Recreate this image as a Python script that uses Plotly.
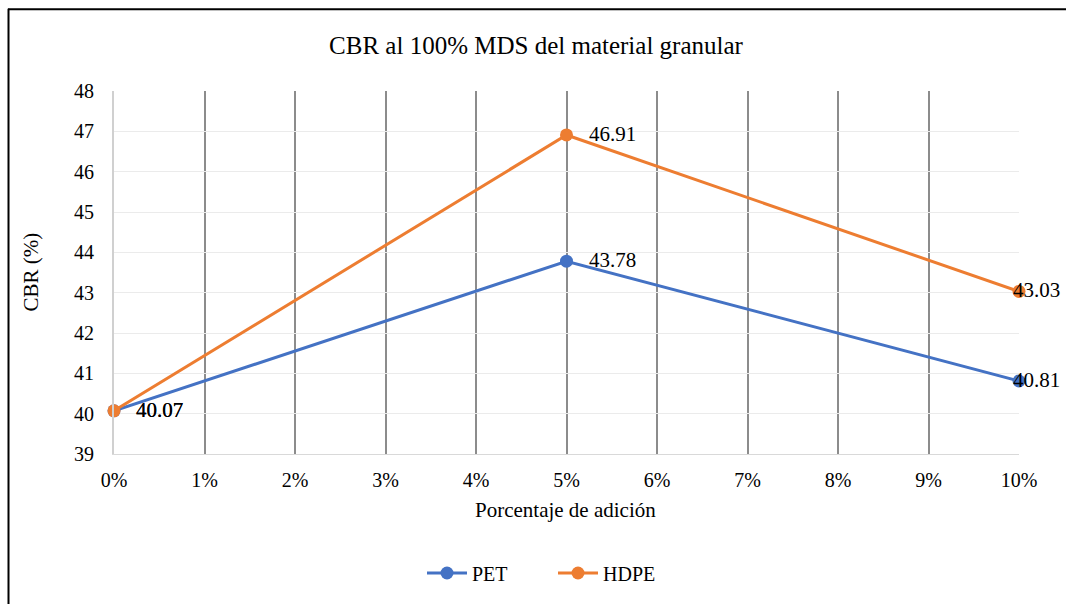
import plotly.graph_objects as go

# Percent of plastic added to the granular material (x positions, 0..10 %)
adicion = [0, 5, 10]
cbr_pet = [40.07, 43.78, 40.81]
cbr_hdpe = [40.07, 46.91, 43.03]

tick_vals = list(range(0, 11))
tick_text = [f"{v}%" for v in tick_vals]

BLUE = "#4472C4"
ORANGE = "#ED7D31"
FONT = "Liberation Serif"

W, H = 1066, 604
M_L, M_R, M_T, M_B = 114, 47, 91, 147
PW, PH = W - M_L - M_R, H - M_T - M_B


def px_x(px):
    return (px - M_L) / PW


def px_y(py):
    return (H - M_B - py) / PH


fig = go.Figure()
fig.add_trace(go.Scatter(
    x=adicion, y=cbr_pet, name="PET", mode="lines+markers",
    line=dict(color=BLUE, width=3), marker=dict(size=13, color=BLUE),
    cliponaxis=False,
))
fig.add_trace(go.Scatter(
    x=adicion, y=cbr_hdpe, name="HDPE", mode="lines+markers",
    line=dict(color=ORANGE, width=3), marker=dict(size=13, color=ORANGE),
    cliponaxis=False,
))

# Value labels next to each point
annotations = []
for series in (cbr_pet, cbr_hdpe):
    for xv, yv in zip(adicion, series):
        last = xv == adicion[-1]
        annotations.append(dict(
            x=xv, y=yv, xref="x", yref="y", text=f"{yv:.2f}",
            showarrow=False, xanchor="left", yanchor="middle",
            xshift=-8 if last else 20, yshift=1,
            font=dict(family=FONT, size=21, color="#000000"),
        ))

# Axis titles
annotations.append(dict(
    x=px_x(30), y=0.5, xref="paper", yref="paper", text="CBR (%)",
    showarrow=False, textangle=-90, xanchor="center", yanchor="middle",
    font=dict(family=FONT, size=21, color="#000000"),
))
annotations.append(dict(
    x=px_x(565), y=px_y(513), xref="paper", yref="paper",
    text="Porcentaje de adición",
    showarrow=False, xanchor="center", yanchor="middle",
    font=dict(family=FONT, size=21, color="#000000"),
))

# Chart-area frame (top and left edges)
shapes = [
    dict(type="line", xref="paper", yref="paper",
         x0=px_x(8), x1=px_x(1066), y0=px_y(8.5), y1=px_y(8.5),
         line=dict(color="#000000", width=2)),
    dict(type="line", xref="paper", yref="paper",
         x0=px_x(8.5), x1=px_x(8.5), y0=px_y(8), y1=px_y(610),
         line=dict(color="#000000", width=2)),
]

fig.update_layout(
    width=W, height=H,
    margin=dict(l=M_L, r=M_R, t=M_T, b=M_B),
    paper_bgcolor="white", plot_bgcolor="white",
    font=dict(family=FONT, size=20, color="#000000"),
    title=dict(text="CBR al 100% MDS del material granular",
               x=px_x(536), xref="paper", xanchor="center",
               y=1 - 45 / H, yanchor="middle",
               font=dict(family=FONT, size=25, color="#000000")),
    showlegend=True,
    legend=dict(orientation="h", x=px_x(422), xanchor="left",
                y=px_y(577), yanchor="middle",
                font=dict(family=FONT, size=20, color="#000000"),
                entrywidth=76, entrywidthmode="pixels",
                itemwidth=40, bgcolor="rgba(0,0,0,0)"),
    annotations=annotations,
    shapes=shapes,
)

fig.update_xaxes(
    range=[0, 10], tickvals=tick_vals, ticktext=tick_text,
    showgrid=True, gridcolor="#8c8c8c", gridwidth=2,
    zeroline=False, showline=True, linecolor="#d9d9d9", linewidth=1,
    ticks="", ticklabelstandoff=8,
    tickfont=dict(family=FONT, size=20, color="#000000"),
)
fig.update_yaxes(
    range=[39, 48], dtick=1,
    showgrid=True, gridcolor="#ebebeb", gridwidth=1,
    zeroline=False, showline=True, linecolor="#d0d0d0", linewidth=2,
    ticks="", ticklabelstandoff=14,
    tickfont=dict(family=FONT, size=20, color="#000000"),
)

fig.write_html("out.html")
